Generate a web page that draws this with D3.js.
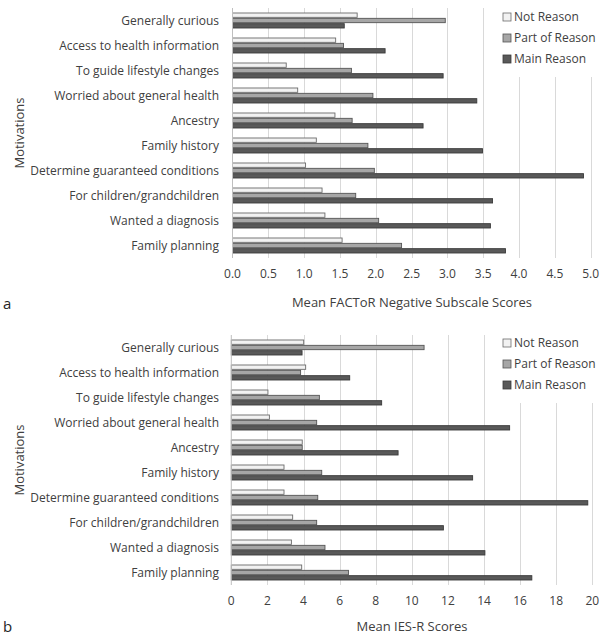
<!DOCTYPE html>
<html lang="en">
<head>
  <meta charset="UTF-8">
  <title>Motivations - FACToR and IES-R scores</title>
  <script src="https://d3js.org/d3.v7.min.js"></script>
  <style>
    body {
      margin: 0;
      background: #fff;
      font-family: 'Open Sans', 'Noto Sans', sans-serif;
    }
    .grid line { stroke: #d9d9d9; shape-rendering: crispEdges; }
    .grid path { stroke-width: 0; }
    .lbl { fill: #404040; }
  </style>
</head>
<body>
  <svg width="607" height="636"></svg>

  <script>
    const categories = [
      "Generally curious",
      "Access to health information",
      "To guide lifestyle changes",
      "Worried about general health",
      "Ancestry",
      "Family history",
      "Determine guaranteed conditions",
      "For children/grandchildren",
      "Wanted a diagnosis",
      "Family planning"
    ];
    const series = ["Not Reason", "Part of Reason", "Main Reason"];

    // panel a: Mean FACToR Negative Subscale Scores
    const factorNot  = [1.74, 1.44, 0.75, 0.91, 1.43, 1.17, 1.02, 1.25, 1.29, 1.53];
    const factorPart = [2.97, 1.55, 1.66, 1.96, 1.67, 1.89, 1.98, 1.72, 2.04, 2.36];
    const factorMain = [1.56, 2.13, 2.94, 3.41, 2.66, 3.49, 4.90, 3.63, 3.60, 3.81];
    const factorTicks = [0, 0.5, 1, 1.5, 2, 2.5, 3, 3.5, 4, 4.5, 5];

    // panel b: Mean IES-R Scores
    const iesNot  = [4.01, 4.12, 2.03, 2.11, 3.93, 2.92, 2.92, 3.40, 3.33, 3.90];
    const iesPart = [10.68, 3.84, 4.88, 4.73, 3.93, 5.01, 4.79, 4.73, 5.19, 6.49];
    const iesMain = [3.92, 6.56, 8.33, 15.42, 9.24, 13.37, 19.75, 11.75, 14.05, 16.65];
    const iesTicks = [0, 2, 4, 6, 8, 10, 12, 14, 16, 18, 20];

    const fills = { "Not Reason": "#f2f2f2", "Part of Reason": "#a6a6a6", "Main Reason": "#595959" };
    const strokes = { "Not Reason": "#6b6b6b", "Part of Reason": "#555", "Main Reason": "#3a3a3a" };

    const svg = d3.select("svg");

    function drawPanel(opts) {
      const g = svg.append("g");
      const bottom = opts.top + 250;

      const x = d3.scaleLinear()
        .domain([0, opts.ticks[opts.ticks.length - 1]])
        .range([opts.x0, opts.x1]);

      const y = d3.scaleBand()
        .domain(categories)
        .range([opts.top, bottom])
        .paddingInner(0.36)
        .paddingOuter(0.18);

      const ySub = d3.scaleBand()
        .domain(series)
        .range([0, y.bandwidth()]);

      // vertical gridlines
      g.append("g")
        .attr("class", "grid")
        .attr("transform", `translate(0,${bottom})`)
        .call(d3.axisBottom(x).tickValues(opts.ticks.slice(1)).tickSize(-250).tickFormat(""));

      // white legend box hides the gridlines behind it
      g.append("rect")
        .attr("x", 488)
        .attr("y", opts.legendTop - 12)
        .attr("width", 119)
        .attr("height", 72)
        .attr("fill", "#fff");

      // value axis tick labels
      g.selectAll(".tick-label")
        .data(opts.ticks)
        .enter()
        .append("text")
        .attr("class", "lbl")
        .attr("x", d => x(d))
        .attr("y", bottom + 20)
        .attr("text-anchor", "middle")
        .style("font-size", "12px")
        .text(opts.format);

      // bars
      const rows = categories.map((c, i) => ({
        cat: c,
        vals: [opts.notVals[i], opts.partVals[i], opts.mainVals[i]]
      }));

      const grp = g.selectAll(".grp")
        .data(rows)
        .enter()
        .append("g")
        .attr("transform", d => `translate(0,${y(d.cat)})`);

      grp.selectAll("rect")
        .data(d => d.vals.map((v, j) => ({ s: series[j], v: v })))
        .enter()
        .append("rect")
        .attr("x", x(0))
        .attr("y", d => ySub(d.s) + 0.5)
        .attr("width", d => x(d.v) - x(0))
        .attr("height", ySub.bandwidth() - 1)
        .attr("fill", d => fills[d.s])
        .attr("stroke", d => strokes[d.s])
        .attr("stroke-width", 0.9);

      // category axis
      g.append("line")
        .attr("x1", x(0)).attr("x2", x(0))
        .attr("y1", opts.top).attr("y2", bottom)
        .attr("stroke", "#bfbfbf");

      g.selectAll(".cat")
        .data(categories)
        .enter()
        .append("text")
        .attr("class", "lbl")
        .attr("x", 219)
        .attr("y", d => y(d) + y.bandwidth() / 2)
        .attr("dy", "0.35em")
        .attr("text-anchor", "end")
        .style("font-size", "12px")
        .text(d => d);

      // axis titles
      g.append("text")
        .attr("class", "lbl")
        .attr("transform", `translate(24,${opts.top + 125}) rotate(-90)`)
        .attr("text-anchor", "middle")
        .style("font-size", "13px")
        .text("Motivations");

      g.append("text")
        .attr("class", "lbl")
        .attr("x", 412)
        .attr("y", bottom + opts.titleDy)
        .attr("text-anchor", "middle")
        .style("font-size", "13px")
        .text(opts.title);

      g.append("text")
        .attr("x", 3)
        .attr("y", bottom + opts.letterDy)
        .attr("fill", "#262626")
        .style("font-size", "15px")
        .text(opts.letter);

      // legend
      const leg = g.selectAll(".leg")
        .data(series)
        .enter()
        .append("g")
        .attr("transform", (d, i) => `translate(503,${opts.legendTop + i * 21})`);

      leg.append("rect")
        .attr("x", 0).attr("y", -4)
        .attr("width", 8).attr("height", 8)
        .attr("fill", d => fills[d])
        .attr("stroke", d => strokes[d])
        .attr("stroke-width", 0.8);

      leg.append("text")
        .attr("class", "lbl")
        .attr("x", 11)
        .attr("dy", "0.35em")
        .style("font-size", "12px")
        .text(d => d);
    }

    drawPanel({
      top: 8, x0: 232.5, x1: 590.7,
      notVals: factorNot, partVals: factorPart, mainVals: factorMain,
      ticks: factorTicks, format: d3.format(".1f"),
      title: "Mean FACToR Negative Subscale Scores",
      letter: "a", legendTop: 17, titleDy: 49, letterDy: 51
    });

    drawPanel({
      top: 335, x0: 231.3, x1: 592.3,
      notVals: iesNot, partVals: iesPart, mainVals: iesMain,
      ticks: iesTicks, format: d3.format("d"),
      title: "Mean IES-R Scores",
      letter: "b", legendTop: 343, titleDy: 46, letterDy: 47
    });
  </script>
</body>
</html>
